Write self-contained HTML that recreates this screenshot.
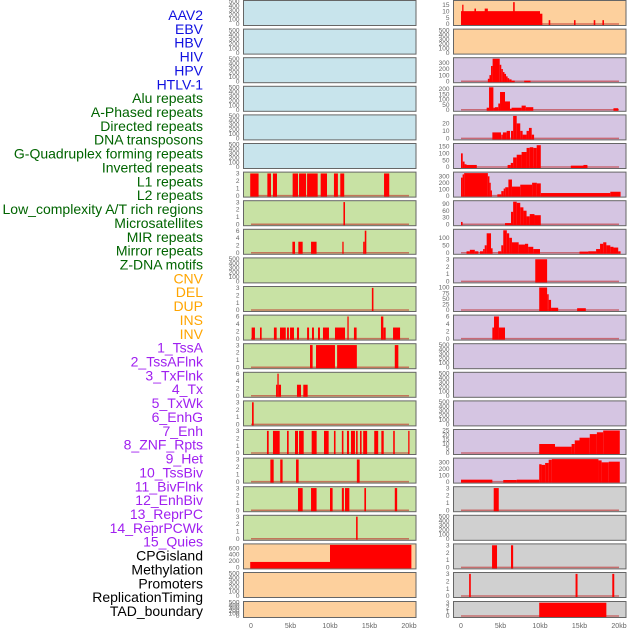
<!DOCTYPE html>
<html><head><meta charset="utf-8">
<style>
html,body{margin:0;padding:0;background:#fff;}
svg{display:block;font-family:"Liberation Sans",sans-serif;}
</style></head>
<body>
<svg id="chart" width="630" height="630" viewBox="0 0 630 630" xmlns="http://www.w3.org/2000/svg"></svg>
<script>
// ---------- data (kb start, kb end, value) ----------
const trackLabels = ["AAV2","EBV","HBV","HIV","HPV","HTLV-1","Alu repeats","A-Phased repeats","Directed repeats","DNA transposons","G-Quadruplex forming repeats","Inverted repeats","L1 repeats","L2 repeats","Low_complexity A/T rich regions","Microsatellites","MIR repeats","Mirror repeats","Z-DNA motifs","CNV","DEL","DUP","INS","INV","1_TssA","2_TssAFlnk","3_TxFlnk","4_Tx","5_TxWk","6_EnhG","7_Enh","8_ZNF_Rpts","9_Het","10_TssBiv","11_BivFlnk","12_EnhBiv","13_ReprPC","14_ReprPCWk","15_Quies","CPGisland","Methylation","Promoters","ReplicationTiming","TAD_boundary"];
const labelColors = ["#1010e0","#1010e0","#1010e0","#1010e0","#1010e0","#1010e0","#006400","#006400","#006400","#006400","#006400","#006400","#006400","#006400","#006400","#006400","#006400","#006400","#006400","#ffa500","#ffa500","#ffa500","#ffa500","#ffa500","#a020f0","#a020f0","#a020f0","#a020f0","#a020f0","#a020f0","#a020f0","#a020f0","#a020f0","#a020f0","#a020f0","#a020f0","#a020f0","#a020f0","#a020f0","#000","#000","#000","#000","#000"];
const xTickValues = [0,5,10,15,20];
const xTickLabels = ["0","5kb","10kb","15kb","20kb"];

const ticksEmpty = [0,100,200,300,400,500];
const ticks3 = [0,1,2,3];
const ticks6 = [0,2,4,6];

const r0R = [[0,10.0,10],[10.0,10.3,8],[0.15,0.3,15],[1.7,1.9,12],[3.0,3.4,12],[6.6,6.8,17],[11.1,11.3,3],[14.3,14.5,3],[16.8,17.0,3],[17.9,18.1,3]];
const r2R = [[3.4,3.6,40],[3.6,3.8,100],[3.8,4.0,250],[4.0,4.9,370],[4.9,5.1,270],[5.1,5.3,200],[5.3,5.5,150],[5.5,5.7,120],[5.7,5.9,80],[5.9,6.1,50],[6.1,6.4,30],[6.4,6.8,10],[8.0,8.8,10]];
const r3R = [[3.25,3.55,20],[3.55,4.1,215],[4.1,4.3,20],[4.3,4.72,25],[4.72,4.94,60],[4.94,5.57,170],[5.57,6.2,80],[6.2,6.4,10],[6.4,7.67,20],[7.67,8.2,40],[8.2,9.15,25],[19.3,19.9,15]];
const r4R = [[3.97,5.07,8],[5.1,5.3,5],[5.3,5.78,8],[5.78,6.2,10],[6.33,6.6,10],[6.6,7.05,30],[7.05,7.5,20],[7.5,7.8,10],[7.8,8.3,5],[8.3,8.6,10],[8.6,8.95,14],[8.95,9.25,5]];
const r5R = [[0,0.22,100],[0.22,0.45,40],[0.45,0.7,20],[0.7,2.0,15],[5.9,6.3,15],[6.3,6.6,30],[6.6,7.05,70],[7.05,7.67,90],[7.67,8.3,110],[8.3,8.7,140],[8.7,9.15,145],[9.15,9.58,140],[9.58,10.1,160],[13.9,16.0,10],[15.5,16.0,15]];
const r6L = [[-0.1,0.96,3],[2.07,2.53,3],[2.78,3.29,3],[5.27,5.95,3],[6.08,6.97,3],[7.1,8.44,3],[8.82,9.62,3],[10.5,11.0,3],[11.3,11.8,3],[16.84,17.5,3]];
const r6R = [[0,0.2,280],[0.2,0.4,330],[0.4,3.4,350],[3.4,3.6,300],[3.6,3.75,200],[3.75,3.9,80],[4.6,5.1,20],[5.1,5.4,70],[5.4,5.6,110],[5.6,6.0,130],[6.0,6.45,250],[6.45,7.5,140],[7.5,9.0,170],[9.0,9.6,200],[9.6,10.1,190],[10.1,18.9,40],[18.9,20.2,60]];
const r7L = [[11.7,11.9,3]];
const r7R = [[0,0.2,10],[5.57,6.33,5],[6.33,6.6,55],[6.6,7.05,100],[7.05,7.5,95],[7.5,7.9,75],[7.9,8.3,60],[8.3,8.7,35],[8.7,9.3,45],[9.3,10.1,40]];
const r8L = [[5.24,5.57,3],[5.99,6.54,3],[7.6,8.3,3],[11.56,11.7,3],[14.2,14.4,3],[14.4,14.6,6]];
const r8R = [[0.7,1.12,10],[1.12,1.75,20],[1.75,2.2,10],[2.4,2.8,10],[2.8,3.0,25],[3.0,3.25,50],[3.25,3.8,130],[3.8,4.0,30],[4.7,5.1,10],[5.1,5.35,50],[5.35,5.8,150],[5.8,6.1,130],[6.1,6.45,100],[6.45,7.3,70],[7.3,8.1,55],[8.1,8.5,60],[8.5,9.15,40],[9.15,10.0,25],[15.0,16.1,8],[16.1,17.1,10],[17.1,17.6,25],[17.6,18.0,60],[18.0,18.4,70],[18.4,18.9,50],[18.9,19.3,40],[19.3,19.9,35],[19.9,20.2,10]];
const r9R = [[9.4,10.9,3]];
const r10L = [[15.3,15.5,3]];
const r10R = [[9.9,10.9,100],[10.9,11.1,70],[11.1,11.4,45],[11.4,12.3,10],[14.7,15.8,8]];
const r11L = [[0.08,0.5,3],[1.14,1.35,3],[2.9,3.25,3],[3.67,4.4,3],[4.56,4.8,3],[4.94,5.44,3],[5.82,6.08,3],[7.1,7.35,3],[7.72,7.97,3],[8.48,8.73,3],[9.11,9.87,3],[10.63,11.9,3],[12.2,12.36,6],[13.03,13.37,3],[16.45,16.75,6],[16.75,17.05,3],[17.98,18.87,3]];
const r11R = [[3.97,4.18,3],[4.18,4.8,6],[4.8,5.57,3]];
const r12L = [[7.47,7.8,3],[8.23,10.63,3],[10.9,13.4,3],[18.2,18.65,3]];
const r13L = [[3.17,3.34,3],[3.34,3.5,6],[3.5,3.8,3],[5.82,6.33,3],[6.62,7.17,3]];
const r14L = [[0.13,0.34,3]];
const r15L = [[2.02,2.24,3],[2.78,3.63,3],[4.56,4.77,3],[5.57,5.95,3],[6.08,6.67,3],[7.68,8.31,3],[9.24,9.83,3],[10.5,10.7,3],[11.5,11.7,3],[12.15,12.4,3],[12.66,13.16,3],[13.3,13.5,3],[13.8,14.0,3],[14.2,14.7,3],[15.6,16.1,3],[16.5,16.8,3],[18.0,18.2,3],[19.9,20.05,3]];
const r15R = [[9.9,11.9,10],[11.9,14.0,7],[14.0,14.4,10],[14.4,15.0,14],[15.0,16.3,17],[16.3,17.2,21],[17.2,18.0,23],[18.0,20.1,25]];
const r16L = [[2.45,2.87,3],[3.7,4.0,3],[5.7,6.03,3],[13.4,13.75,3]];
const r16R = [[0,3.97,30],[5.35,7.05,25],[7.05,9.9,30],[9.9,10.2,270],[10.2,10.65,260],[10.65,11.1,290],[11.1,11.5,340],[11.5,17.4,350],[17.4,17.8,330],[17.8,18.7,300],[18.7,20.1,310]];
const r17L = [[5.95,6.54,3],[7.6,8.3,3],[10.0,10.33,3],[11.5,11.76,3],[11.9,12.45,3],[14.35,14.56,3],[18.2,18.5,3]];
const r17R = [[4.14,4.78,3]];
const r18L = [[13.3,13.5,3]];
const r19L = [[-0.1,10.0,170],[10.0,20.3,700]];
const r19R = [[3.93,4.56,3],[6.33,6.6,3]];
const r20R = [[1.03,1.24,3],[14.5,14.75,3],[19.15,19.4,3]];
const r21R = [[9.9,18.4,3]];

// ---------- layout config: [row, col, bg, series, ticks, ymax, baseline] ----------
const BLUE="#c8e4ec", GREEN="#c8e2a4", PEACH="#fdd09d", LAV="#d5c5e2", GREY="#d0d0d0";
const panelDefs = [
 [0,0,BLUE,[],ticksEmpty,500,false],[0,1,PEACH,r0R,[0,5,10,15],17.5,true],
 [1,0,BLUE,[],ticksEmpty,500,false],[1,1,PEACH,[],ticksEmpty,500,false],
 [2,0,BLUE,[],ticksEmpty,500,false],[2,1,LAV,r2R,[0,100,200,300],370,true],
 [3,0,BLUE,[],ticksEmpty,500,false],[3,1,LAV,r3R,[0,50,100,150,200],215,true],
 [4,0,BLUE,[],ticksEmpty,500,false],[4,1,LAV,r4R,[0,10,20],30,true],
 [5,0,BLUE,[],ticksEmpty,500,false],[5,1,LAV,r5R,[0,50,100,150],165,true],
 [6,0,GREEN,r6L,ticks3,3.05,true],[6,1,LAV,r6R,[0,100,200,300],350,true],
 [7,0,GREEN,r7L,ticks3,3.05,true],[7,1,LAV,r7R,[0,30,60,90],100,true],
 [8,0,GREEN,r8L,ticks6,6.1,true],[8,1,LAV,r8R,[0,50,100],150,true],
 [9,0,GREEN,[],ticksEmpty,500,false],[9,1,LAV,r9R,ticks3,3.05,true],
 [10,0,GREEN,r10L,ticks3,3.05,true],[10,1,LAV,r10R,[0,25,50,75,100],100,true],
 [11,0,GREEN,r11L,ticks6,6.1,true],[11,1,LAV,r11R,ticks6,6.1,true],
 [12,0,GREEN,r12L,ticks3,3.05,true],[12,1,LAV,[],ticksEmpty,500,false],
 [13,0,GREEN,r13L,ticks6,6.1,true],[13,1,LAV,[],ticksEmpty,500,false],
 [14,0,GREEN,r14L,ticks3,3.05,true],[14,1,LAV,[],ticksEmpty,500,false],
 [15,0,GREEN,r15L,ticks3,3.05,true],[15,1,LAV,r15R,[0,5,10,15,20,25],25,true],
 [16,0,GREEN,r16L,ticks3,3.05,true],[16,1,LAV,r16R,[0,100,200,300],350,true],
 [17,0,GREEN,r17L,ticks3,3.05,true],[17,1,GREY,r17R,ticks3,3.05,true],
 [18,0,GREEN,r18L,ticks3,3.05,true],[18,1,GREY,[],ticksEmpty,500,false],
 [19,0,PEACH,r19L,[0,200,400,600],700,false],[19,1,GREY,r19R,ticks3,3.05,true],
 [20,0,PEACH,[],ticksEmpty,500,false],[20,1,GREY,r20R,ticks3,3.05,true],
 [21,0,PEACH,[],ticksEmpty,500,false],[21,1,GREY,r21R,ticks3,3.05,true]
];

const NS="http://www.w3.org/2000/svg";
const svg=document.getElementById("chart");
function mk(tag,attrs,parent){const e=document.createElementNS(NS,tag);for(const k in attrs)e.setAttribute(k,attrs[k]);(parent||svg).appendChild(e);return e;}

// labels
const labelTop=15, labelStep=(611-15)/43;
trackLabels.forEach((t,i)=>{
  const el=mk("text",{x:203,y:labelTop+i*labelStep+5,"text-anchor":"end","font-size":"14",fill:labelColors[i]});
  
  
  el.textContent=t;
});

function xScale(col,kb){return (col?461:251)+kb*7.9;}

panelDefs.forEach(d=>{
  const [row,col,bg,segs,ticks,ymax,base]=d;
  const top=row<21?row*28.6+0.5:601.5;
  const h=row<21?25:16;
  const x0=col?453.5:243.5, w=172.5;
  const g=mk("g",{});
  
  
  mk("rect",{x:x0,y:top,width:w,height:h,fill:bg,stroke:"#666","stroke-width":1},g);
  const yS=v=>top+h-1.5-(v/ymax)*(h-2.5);
  if(base){
    const bl=mk("line",{x1:xScale(col,0),x2:xScale(col,20),y1:top+h-1.5,y2:top+h-1.5,stroke:"rgba(190,30,30,0.55)","stroke-width":1.5},g);
    
    
  }
  segs.forEach(s=>{
    const xa=Math.max(xScale(col,s[0]),x0+0.5), xb=Math.min(xScale(col,s[1]),x0+w-0.5);
    const y=Math.max(yS(s[2]),top+0.5);
    const b=mk("rect",{x:xa,y:y,width:Math.max(xb-xa,1.3),height:Math.max(top+h-0.5-y,0),fill:"#ff0000"},g);
    
    
  });
  ticks.forEach(t=>{
    const tl=mk("text",{x:x0-4,y:yS(t)+2.2,"text-anchor":"end","font-size":"6.5",fill:"#666"},g);
    
    
    tl.textContent=String(t);
  });
});

// x axes
[0,1].forEach(col=>{
  xTickValues.forEach((v,i)=>{
    const t=mk("text",{x:xScale(col,v),y:628,"text-anchor":"middle","font-size":"7",fill:"#666"});
    
    
    t.textContent=xTickLabels[i];
  });
});
</script>
</body></html>
